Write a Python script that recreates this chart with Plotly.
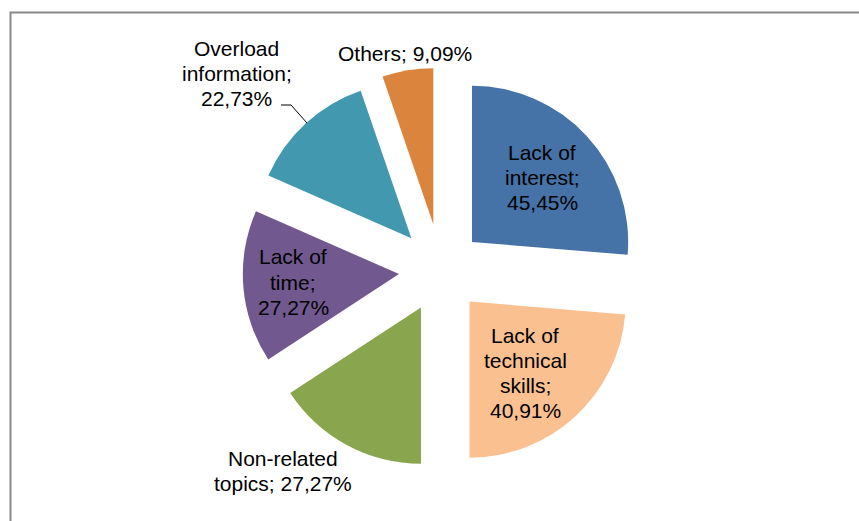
import plotly.graph_objects as go

W, H = 859, 521

categories = ["Lack of interest", "Lack of technical skills", "Non-related topics",
              "Lack of time", "Overload information", "Others"]
values = [45.45, 40.91, 27.27, 27.27, 22.73, 9.09]
value_labels = ["45,45%", "40,91%", "27,27%", "27,27%", "22,73%", "9,09%"]
colors = ["#4572A7", "#FAC090", "#89A54E", "#71588F", "#4198AF", "#DB843D"]
pulls = [0.27, 0.27, 0.27, 0.27, 0.28, 0.30]

# label text lines (as wrapped in the original) and their pixel centres
label_lines = [
    ["Lack of", "interest;", value_labels[0]],
    ["Lack of", "technical", "skills;", value_labels[1]],
    ["Non-related", "topics; " + value_labels[2]],
    ["Lack of", "time;", value_labels[3]],
    ["Overload", "information;", value_labels[4]],
    ["Others; " + value_labels[5]],
]
label_centers = [(542, 177), (525, 373), (283, 471), (293, 282), (237, 74), (405, 53)]
LINE = 25
FONT = dict(family="Liberation Sans, Arial, sans-serif", size=21, color="#000000")

# pie geometry (pixels)
cx, cy, box = 441, 270.5, 406

fig = go.Figure(go.Pie(
    labels=categories,
    values=values,
    sort=False,
    direction="clockwise",
    rotation=0,
    pull=pulls,
    marker=dict(colors=colors, line=dict(width=0)),
    textinfo="none",
    hoverinfo="skip",
    showlegend=False,
    domain=dict(x=[(cx - box / 2) / W, (cx + box / 2) / W],
                y=[1 - (cy + box / 2) / H, 1 - (cy - box / 2) / H]),
))

annotations = []
for lines, (px, py) in zip(label_lines, label_centers):
    n = len(lines)
    for i, t in enumerate(lines):
        ly = py + (i - (n - 1) / 2) * LINE
        annotations.append(dict(
            x=px / W, y=1 - ly / H, xref="paper", yref="paper",
            text=t, showarrow=False, xanchor="center", yanchor="middle",
            font=FONT,
        ))

shapes = [
    # chart border
    dict(type="rect", xref="paper", yref="paper",
         x0=10.5 / W, y0=-0.02, x1=1.02, y1=1 - 12.5 / H,
         line=dict(color="#898989", width=2)),
    # leader line for "Overload information"
    dict(type="path", xref="paper", yref="paper",
         path="M {:.5f},{:.5f} L {:.5f},{:.5f} L {:.5f},{:.5f}".format(
             281 / W, 1 - 105 / H, 291 / W, 1 - 105 / H, 307 / W, 1 - 123 / H),
         line=dict(color="#000000", width=1)),
]

fig.update_layout(
    width=W, height=H,
    margin=dict(l=0, r=0, t=0, b=0),
    paper_bgcolor="white", plot_bgcolor="white",
    annotations=annotations,
    shapes=shapes,
)

fig.write_html("out.html")
